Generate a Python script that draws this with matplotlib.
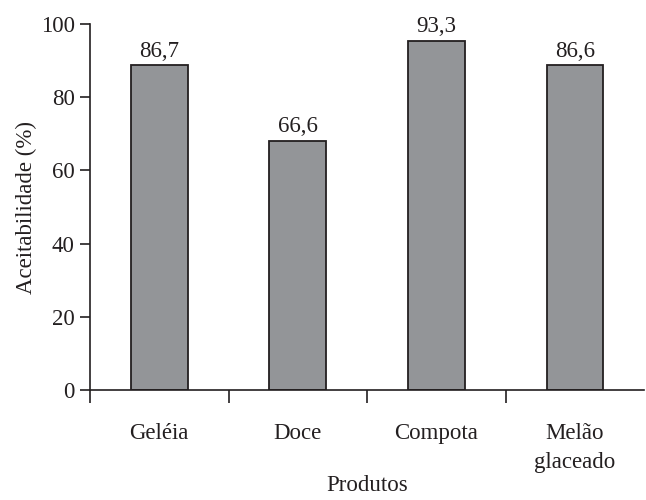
import matplotlib
matplotlib.use("Agg")
import matplotlib.pyplot as plt

produtos = ["Geléia", "Doce", "Compota", "Melão\nglaceado"]
alturas = [88.7, 68.1, 95.4, 88.7]
rotulos = ["86,7", "66,6", "93,3", "86,6"]
yticks = [0, 20, 40, 60, 80, 100]

plt.rcParams['font.family'] = ['Liberation Serif', 'DejaVu Serif']
cor_texto = '#231f20'
fs = 16.5

fig = plt.figure(figsize=(6.46, 5), dpi=100)
ax = fig.add_axes([0.1393, 0.22, 0.858, 0.732])

x = list(range(len(produtos)))
ax.bar(x, alturas, width=0.41, color='#939598', edgecolor=cor_texto, linewidth=1.3)

for xi, h, r in zip(x, alturas, rotulos):
    ax.text(xi, h + 1.0, r, ha='center', va='bottom', fontsize=fs, color=cor_texto)

ax.set_xlim(-0.5, 3.5)
ax.set_ylim(0, 100)
ax.set_yticks(yticks)
ax.set_xticks(x)
ax.set_xticklabels(produtos, fontsize=fs, color=cor_texto, linespacing=1.45)
ax.set_xticks([-0.5, 0.5, 1.5, 2.5], minor=True)
ax.tick_params(axis='x', which='major', length=0, pad=24)
ax.tick_params(axis='x', which='minor', length=9, width=1.2, color=cor_texto, direction='out')
ax.tick_params(axis='y', length=7, width=1.2, color=cor_texto, labelsize=fs, labelcolor=cor_texto, pad=4)

for s in ['top', 'right']:
    ax.spines[s].set_visible(False)
for s in ['left', 'bottom']:
    ax.spines[s].set_linewidth(1.2)
    ax.spines[s].set_color(cor_texto)

ax.set_ylabel("Aceitabilidade (%)", fontsize=fs, color=cor_texto, labelpad=3)
ax.set_xlabel("Produtos", fontsize=fs, color=cor_texto, labelpad=2)

fig.savefig("out.png", dpi=100)
